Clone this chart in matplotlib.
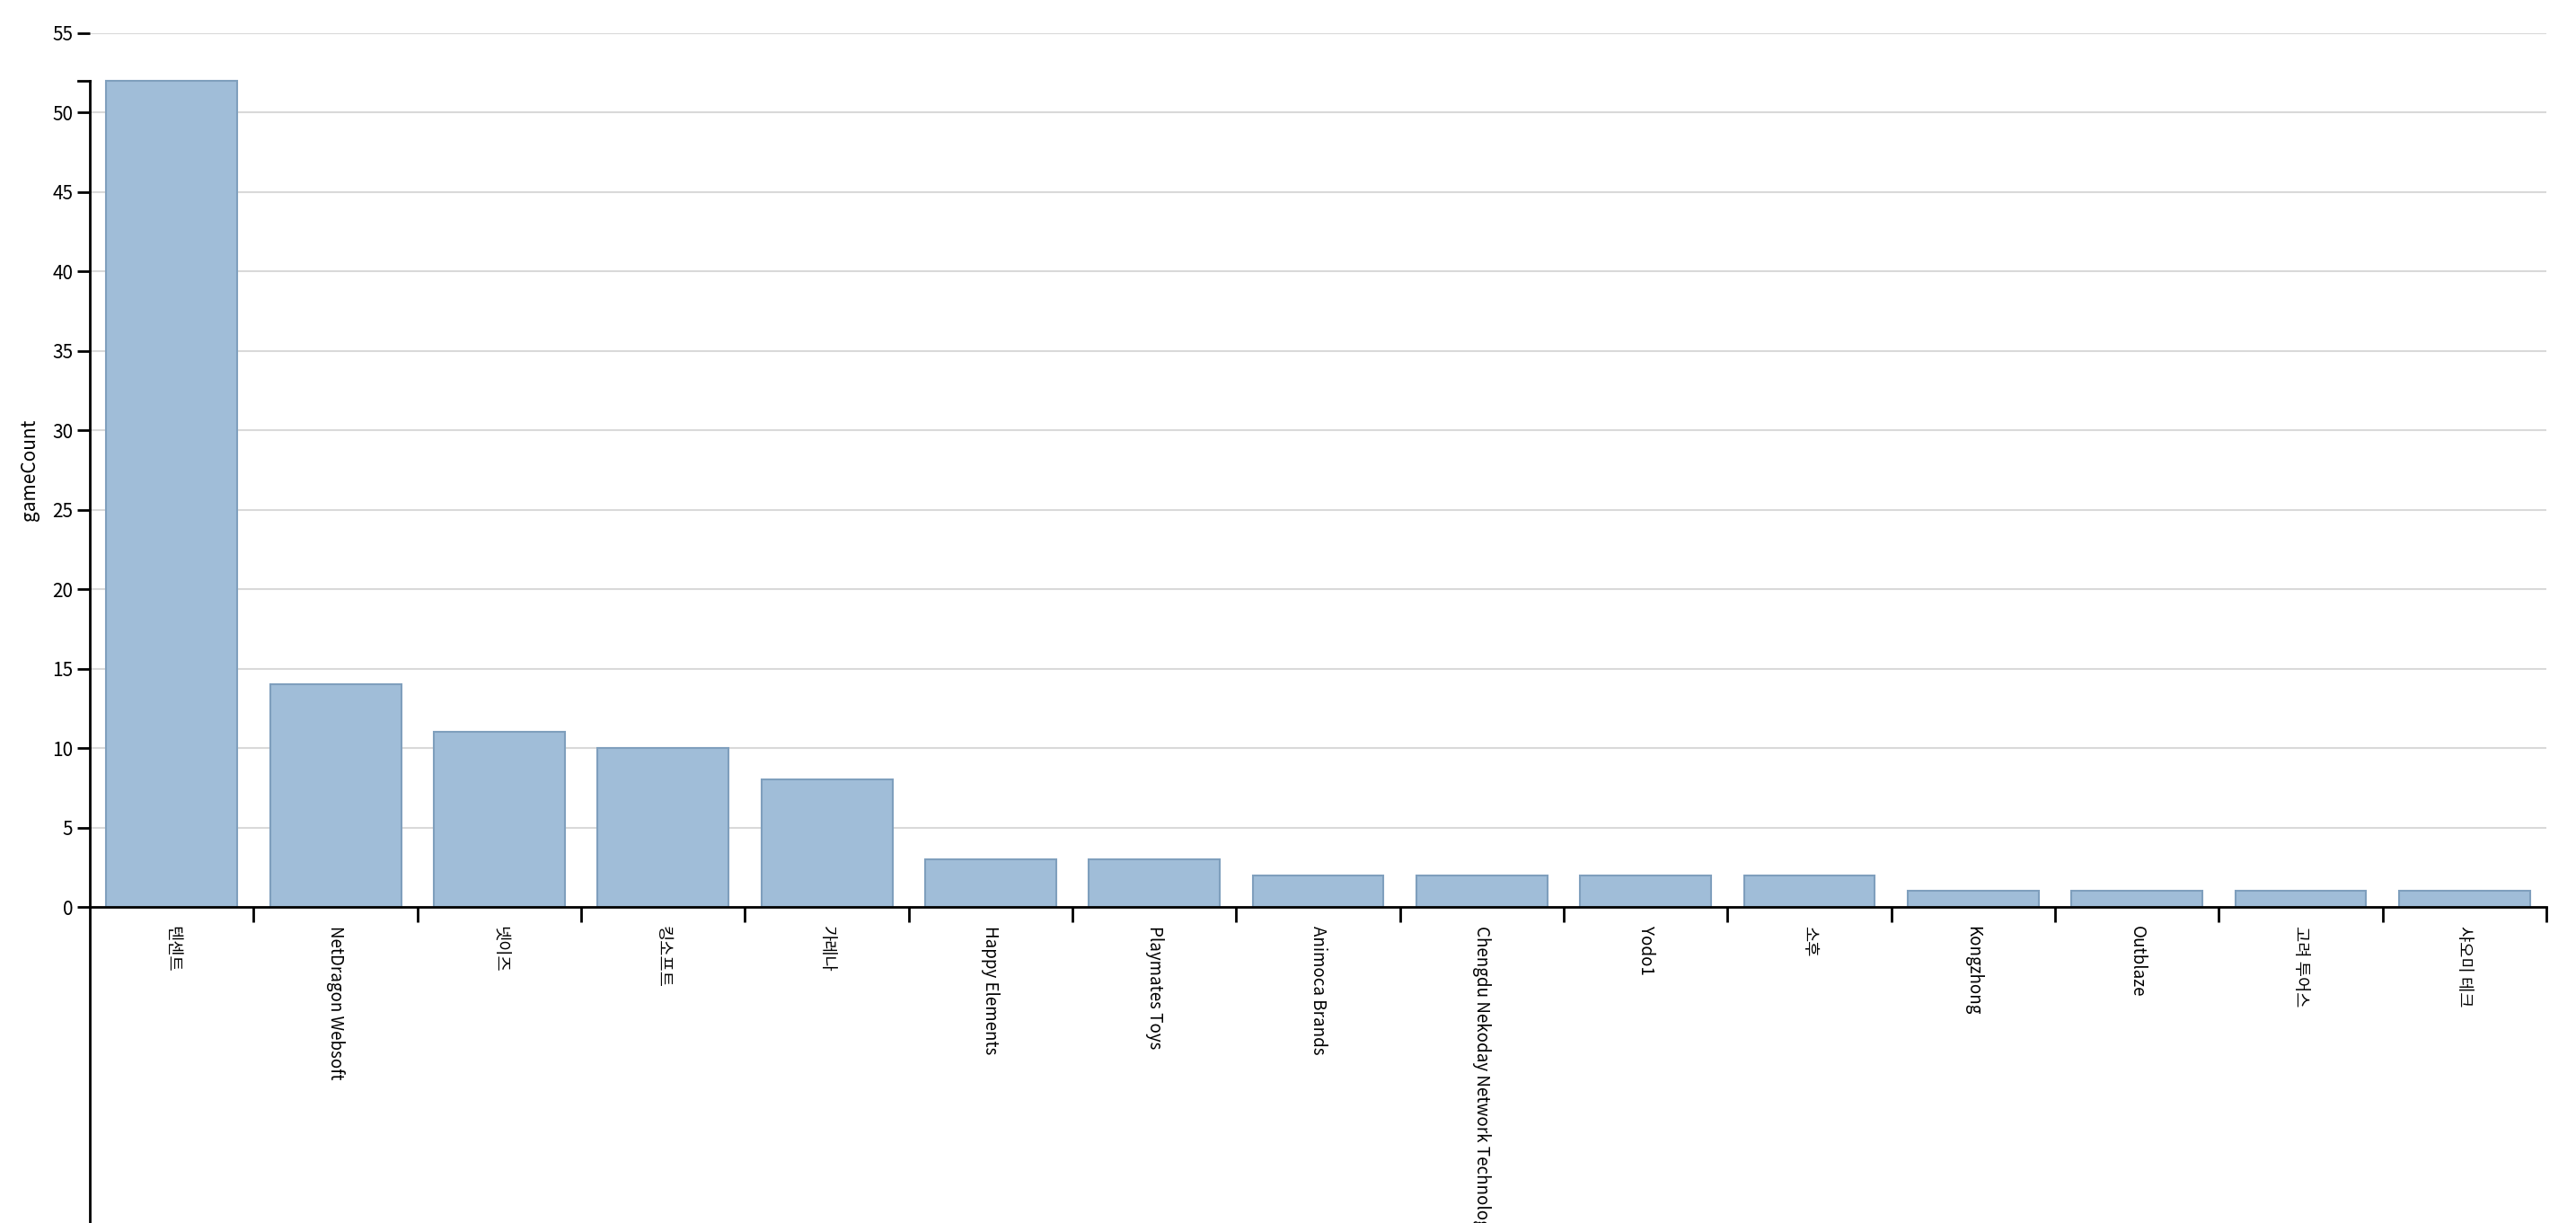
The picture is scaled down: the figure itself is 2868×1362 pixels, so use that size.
import matplotlib
matplotlib.use('Agg')
import matplotlib.pyplot as plt
import numpy as np

plt.rcParams['font.family'] = ['Noto Sans CJK KR', 'DejaVu Sans']

companies = ['텐센트', 'NetDragon Websoft', '넷이즈', '킹소프트', '가레나', 'Happy Elements',
             'Playmates Toys', 'Animoca Brands', 'Chengdu Nekoday Network Technology', 'Yodo1',
             '소후', 'Kongzhong', 'Outblaze', '고려 투어스', '샤오미 테크']
game_counts = [52, 14, 11, 10, 8, 3, 3, 2, 2, 2, 2, 1, 1, 1, 1]

fig = plt.figure(figsize=(28.68, 13.62), dpi=100)
ax = fig.add_axes([0.0349, 0.2584, 0.9536, 0.7147])

x = np.arange(len(companies))
ax.bar(x + 0.5, game_counts, width=0.8, color='#a0bdd8', edgecolor='#7f9fbd', linewidth=1.5, zorder=2)

ax.set_xlim(0, len(companies))
ax.set_ylim(0, 55)
ax.set_yticks(np.arange(0, 56, 5))
ax.grid(axis='y', color='#d9d9d9', linewidth=1.5, zorder=0)
ax.tick_params(axis='y', labelsize=15, length=10, width=2)

# ticks at band boundaries, labels at band centers
ax.set_xticks(np.arange(1, len(companies) + 1))
ax.set_xticklabels([])
ax.tick_params(axis='x', length=12, width=2, direction='out')
for i, name in enumerate(companies):
    ax.text(i + 0.5, -1.2, name, rotation=-90, ha='center', va='top', fontsize=13.5)

for s in ['top', 'right', 'left']:
    ax.spines[s].set_visible(False)
ax.spines['bottom'].set_linewidth(2)
# left axis line as in reference: from ~52 down below the plot
ax.plot([0, 0], [52, -40], color='black', linewidth=2, clip_on=False)
ax.plot([-0.07, 0], [52, 52], color='black', linewidth=2, clip_on=False)

ax.set_ylabel('gameCount', fontsize=15, labelpad=10)

fig.savefig('out.png', dpi=100)
